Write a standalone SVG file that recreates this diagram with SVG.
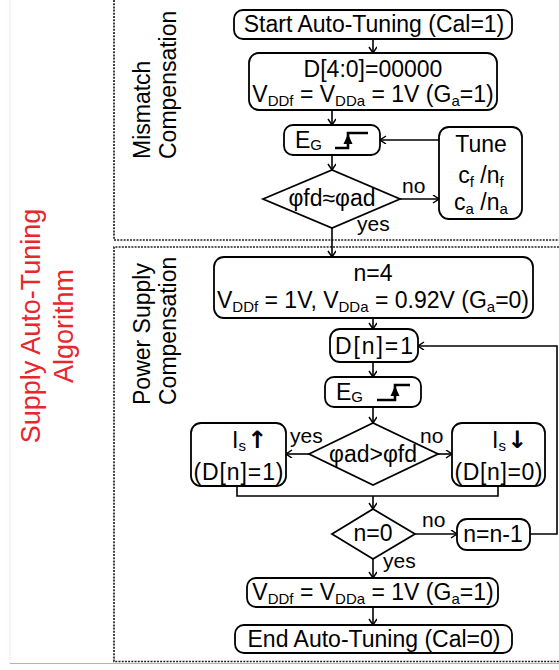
<svg xmlns="http://www.w3.org/2000/svg" width="559" height="670" viewBox="0 0 559 670">
<style>
text{font-family:"Liberation Sans",Arial,sans-serif;fill:#000}
.t{font-size:23px}
.m{text-anchor:middle}
.sub{font-size:15px}
.lbl{font-size:21px}
.side{font-size:23px}
.red{font-size:27px;fill:#e8262b;text-anchor:middle}
.box{fill:#fff;stroke:#000;stroke-width:1.8}
.dia{fill:#fff;stroke:#000;stroke-width:1.8}
.con{fill:none;stroke:#000;stroke-width:1.6}
.dot{fill:none;stroke:#222;stroke-width:1.7;stroke-dasharray:2 1.2}
.step{fill:none;stroke:#000;stroke-width:2.6}
.arr{font-family:"DejaVu Sans",sans-serif;font-weight:bold;font-size:24px}
</style>
<defs>
<marker id="ah" markerWidth="10" markerHeight="10" refX="7" refY="4" orient="auto" markerUnits="userSpaceOnUse">
<path d="M1,0 L7,4 L1,8" fill="none" stroke="#000" stroke-width="1.5"/>
</marker>
</defs>
<rect width="559" height="670" fill="#fff"/>
<g id="frame">
<line x1="10" y1="0" x2="10" y2="663" stroke="#fbe4e4" stroke-width="1"/>
<line x1="10" y1="663.5" x2="559" y2="663.5" stroke="#f29a9a" stroke-width="1"/>
<path class="dot" d="M114,0 V240 H559"/>
<path class="dot" d="M559,247 H114 V661.5 H559"/>
</g>
<g id="titles">
<text class="red" transform="translate(40,326) rotate(-90)">Supply Auto-Tuning</text>
<text class="red" transform="translate(73,326) rotate(-90)">Algorithm</text>
<text class="side" transform="translate(150,159) rotate(-90)">Mismatch</text>
<text class="side" transform="translate(176,159) rotate(-90)">Compensation</text>
<text class="side" transform="translate(150,405) rotate(-90)">Power Supply</text>
<text class="side" transform="translate(176,405) rotate(-90)">Compensation</text>
</g>
<g id="connectors">
<line class="con" x1="373" y1="39" x2="373" y2="53" marker-end="url(#ah)"/>
<line class="con" x1="332" y1="110" x2="332" y2="125" marker-end="url(#ah)"/>
<line class="con" x1="439" y1="140" x2="380" y2="140" marker-end="url(#ah)"/>
<line class="con" x1="332" y1="155" x2="332" y2="170" marker-end="url(#ah)"/>
<line class="con" x1="400" y1="199" x2="439" y2="199" marker-end="url(#ah)"/>
<line class="con" x1="332" y1="228" x2="332" y2="257" marker-end="url(#ah)"/>
<line class="con" x1="373" y1="318" x2="373" y2="329" marker-end="url(#ah)"/>
<polyline class="con" points="530,534 557,534 557,346 418,346" marker-end="url(#ah)"/>
<line class="con" x1="373" y1="362" x2="373" y2="377" marker-end="url(#ah)"/>
<line class="con" x1="373" y1="407" x2="373" y2="423" marker-end="url(#ah)"/>
<line class="con" x1="309" y1="454" x2="286" y2="454" marker-end="url(#ah)"/>
<line class="con" x1="438" y1="454" x2="452" y2="454" marker-end="url(#ah)"/>
<polyline class="con" points="237,486 237,496 498,496 498,486"/>
<line class="con" x1="373" y1="496" x2="373" y2="509" marker-end="url(#ah)"/>
<line class="con" x1="415" y1="534" x2="457" y2="534" marker-end="url(#ah)"/>
<line class="con" x1="373" y1="559" x2="373" y2="578" marker-end="url(#ah)"/>
<line class="con" x1="373" y1="607" x2="373" y2="625" marker-end="url(#ah)"/>
<text class="lbl" x="402" y="193">no</text>
<text class="lbl" x="357" y="231">yes</text>
<text class="lbl" x="290" y="443">yes</text>
<text class="lbl" x="420" y="443">no</text>
<text class="lbl" x="422" y="527">no</text>
<text class="lbl" x="383" y="568">yes</text>
</g>
<g id="start">
<rect class="box" x="234" y="10" width="278" height="29" rx="9"/>
<text class="t m" x="374" y="32">Start Auto-Tuning (Cal=1)</text>
</g>
<g id="init">
<rect class="box" x="249" y="53" width="248" height="57" rx="10"/>
<text class="t m" x="373" y="77">D[4:0]=00000</text>
<text class="t m" x="373" y="102">V<tspan class="sub" dy="4">DDf</tspan><tspan dy="-4"> = V</tspan><tspan class="sub" dy="4">DDa</tspan><tspan dy="-4"> = 1V (G</tspan><tspan class="sub" dy="4">a</tspan><tspan dy="-4">=1)</tspan></text>
</g>
<g id="eg1">
<rect class="box" x="284" y="125" width="96" height="30" rx="9"/>
<text class="t" x="295" y="148">E<tspan class="sub" dy="2">G</tspan></text>
<path class="step" d="M335,148 H348 V133 H368"/>
<polygon points="343.5,144 348,134 352.5,144" fill="#000"/>
</g>
<g id="tune">
<rect class="box" x="439" y="127" width="83" height="92" rx="10"/>
<text class="t m" x="481" y="152">Tune</text>
<text class="t m" x="481" y="183">c<tspan class="sub" dy="4">f</tspan><tspan dy="-4"> /n</tspan><tspan class="sub" dy="4">f</tspan></text>
<text class="t m" x="481" y="210">c<tspan class="sub" dy="4">a</tspan><tspan dy="-4"> /n</tspan><tspan class="sub" dy="4">a</tspan></text>
</g>
<g id="dec1">
<polygon class="dia" points="263,199 332,170 400,199 332,228"/>
<text class="t m" x="332" y="206">φfd≈φad</text>
</g>
<g id="psinit">
<rect class="box" x="214" y="257" width="319" height="61" rx="10"/>
<text class="t m" x="373" y="281">n=4</text>
<text class="t m" x="373" y="308">V<tspan class="sub" dy="4">DDf</tspan><tspan dy="-4"> = 1V, V</tspan><tspan class="sub" dy="4">DDa</tspan><tspan dy="-4"> = 0.92V (G</tspan><tspan class="sub" dy="4">a</tspan><tspan dy="-4">=0)</tspan></text>
</g>
<g id="dn1">
<rect class="box" x="330" y="329" width="88" height="33" rx="10"/>
<text class="t m" x="374" y="354" textLength="78" lengthAdjust="spacing">D[n]=1</text>
</g>
<g id="eg2">
<rect class="box" x="325" y="377" width="96" height="30" rx="9"/>
<text class="t" x="336" y="400">E<tspan class="sub" dy="2">G</tspan></text>
<path class="step" d="M377,400 H395 V385 H410"/>
<polygon points="390.5,396 395,386 399.5,396" fill="#000"/>
</g>
<g id="dec2">
<polygon class="dia" points="309,454 373,423 438,454 373,485"/>
<text class="t m" x="373" y="462">φad&gt;φfd</text>
</g>
<g id="isup">
<rect class="box" x="191" y="423" width="95" height="63" rx="10"/>
<text class="t" x="232" y="448">I<tspan class="sub" dy="3">s</tspan><tspan class="arr" dy="-3" dx="1">↑</tspan></text>
<text class="t m" x="238.5" y="480" textLength="90" lengthAdjust="spacing">(D[n]=1)</text>
</g>
<g id="isdown">
<rect class="box" x="452" y="423" width="93" height="63" rx="10"/>
<text class="t" x="492" y="448">I<tspan class="sub" dy="3">s</tspan><tspan class="arr" dy="-3" dx="1">↓</tspan></text>
<text class="t m" x="498.5" y="480" textLength="88" lengthAdjust="spacing">(D[n]=0)</text>
</g>
<g id="dec3">
<polygon class="dia" points="332,534 373,509 415,534 373,559"/>
<text class="t m" x="373" y="541">n=0</text>
</g>
<g id="nm1">
<rect class="box" x="457" y="519" width="73" height="31" rx="10"/>
<text class="t m" x="493" y="542">n=n-1</text>
</g>
<g id="vdd">
<rect class="box" x="247" y="578" width="251" height="29" rx="9"/>
<text class="t m" x="373" y="600">V<tspan class="sub" dy="4">DDf</tspan><tspan dy="-4"> = V</tspan><tspan class="sub" dy="4">DDa</tspan><tspan dy="-4"> = 1V (G</tspan><tspan class="sub" dy="4">a</tspan><tspan dy="-4">=1)</tspan></text>
</g>
<g id="end">
<rect class="box" x="235" y="625" width="277" height="28" rx="9"/>
<text class="t m" x="374" y="647">End Auto-Tuning (Cal=0)</text>
</g>
</svg>
